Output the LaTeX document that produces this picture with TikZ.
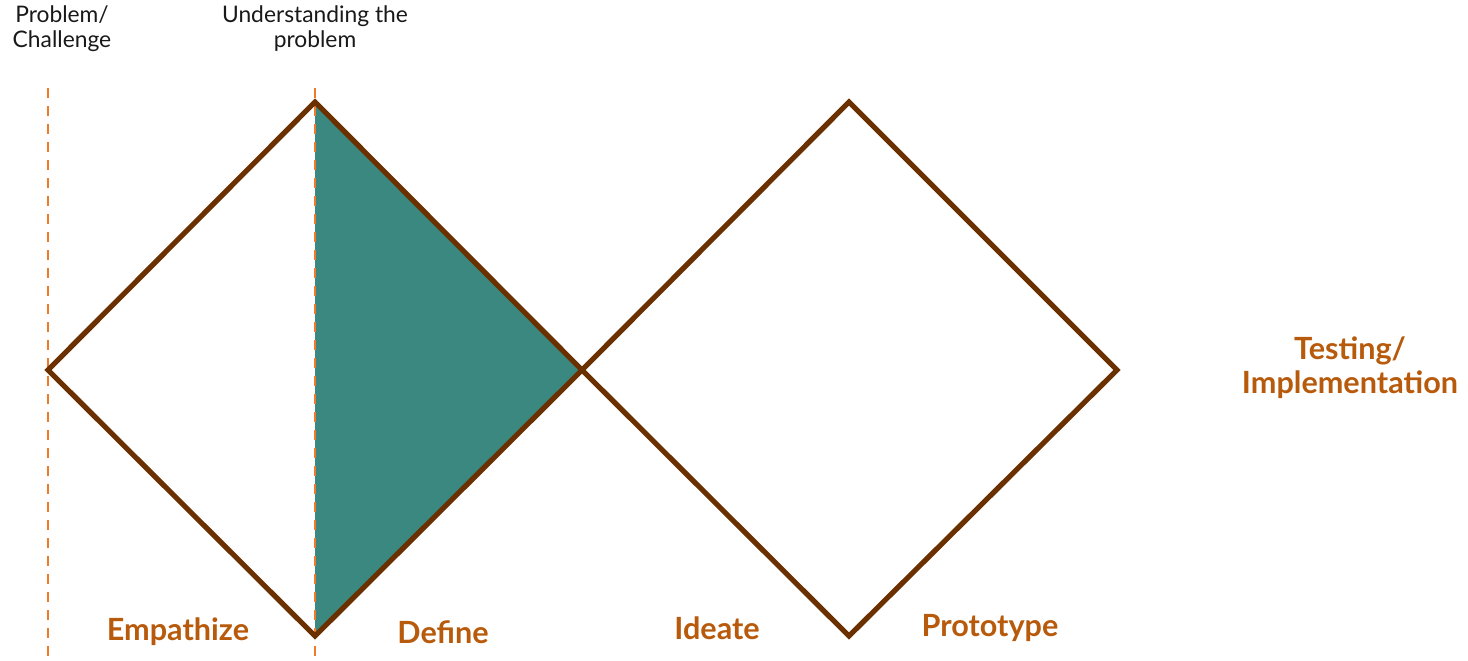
\documentclass[tikz,border=0pt]{standalone}
\usepackage{fontspec}
\setmainfont{Lato}
\usepackage{tikz}
\usetikzlibrary{positioning}
\definecolor{diamondbrown}{HTML}{6A3000}
\definecolor{phaseorange}{HTML}{B85A0C}
\definecolor{markorange}{HTML}{EE7A2A}
\definecolor{defineteal}{HTML}{3A8880}
\tikzset{
    diamond line/.style={draw=diamondbrown, line width=2.6pt, line join=miter},
    marker/.style={draw=markorange, line width=1.2pt, dash pattern=on 5pt off 4pt},
    phase/.style={font=\bfseries\fontsize{15.3}{17}\selectfont, text=phaseorange, align=center},
    stage/.style={font=\fontsize{11.4}{12.5}\selectfont, text=black!90, align=center}
}

\begin{document}
\begin{tikzpicture}[x=0.5pt, y=-0.5pt]
    \useasboundingbox (0,0) rectangle (1468,660);

    % diamond corners
    \coordinate (L) at (48,370);
    \coordinate (T1) at (315,102);
    \coordinate (M) at (582,370);
    \coordinate (B1) at (315,636);
    \coordinate (T2) at (849,102);
    \coordinate (R) at (1117,370);
    \coordinate (B2) at (849,636);

    % tops and bottoms of the markers
    \coordinate (s1) at (48,88);
    \coordinate (e1) at (48,660);
    \coordinate (s2) at (315,88);
    \coordinate (e2) at (315,660);

    % filled half
    \fill[defineteal] (T1) -- (M) -- (B1) -- cycle;

    % markers
    \draw[marker] (s1) -- (e1);
    \draw[marker] (s2) -- (e2);

    % diamonds
    \draw[diamond line] (L) -- (T1) -- (M) -- (B1) -- cycle;
    \draw[diamond line] (M) -- (T2) -- (R) -- (B2) -- cycle;

    % labels
    \node[stage] (problem) at (62,29) {Problem/\\Challenge};
    \node[stage] (understand) at (315,29) {Understanding the\\problem};
    \node[phase] (empathize) at (178,632) {Empathize};
    \node[phase] (define) at (443,632) {Define};
    \node[phase] (ideate) at (717,628) {Ideate};
    \node[phase] (prototype) at (990,628) {Prototype};
    \node[phase] (testing) at (1350,368) {Testing/\\Implementation};
\end{tikzpicture}
\end{document}
